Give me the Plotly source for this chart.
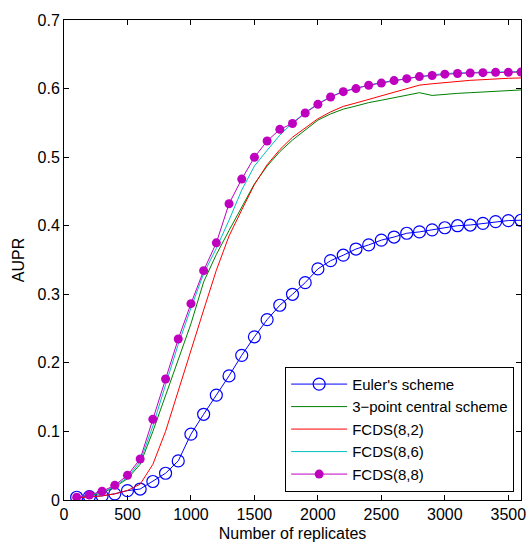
import plotly.graph_objects as go

replicates = [100, 200, 300, 400, 500, 600, 700, 800, 900, 1000, 1100, 1200,
              1300, 1400, 1500, 1600, 1700, 1800, 1900, 2000, 2100, 2200, 2300, 2400,
              2500, 2600, 2700, 2800, 2900, 3000, 3100, 3200, 3300, 3400, 3500, 3600]

euler = [0.004, 0.005, 0.006, 0.009, 0.0136, 0.016, 0.027, 0.039, 0.057, 0.096, 0.125, 0.153,
         0.181, 0.211, 0.238, 0.263, 0.284, 0.300, 0.317, 0.337, 0.349, 0.357, 0.366, 0.372,
         0.379, 0.3835, 0.389, 0.391, 0.394, 0.397, 0.400, 0.401, 0.4035, 0.406, 0.4075, 0.408]

central3 = [0.004, 0.006, 0.010, 0.019, 0.031, 0.052, 0.100, 0.152, 0.205, 0.257, 0.318, 0.358,
            0.393, 0.428, 0.461, 0.487, 0.508, 0.525, 0.539, 0.554, 0.563, 0.570, 0.5746, 0.5795,
            0.583, 0.587, 0.5906, 0.594, 0.590, 0.592, 0.593, 0.594, 0.595, 0.596, 0.597, 0.598]

fcds82 = [0.003, 0.004, 0.006, 0.009, 0.014, 0.023, 0.052, 0.100, 0.160, 0.220, 0.277, 0.335,
          0.385, 0.423, 0.460, 0.489, 0.511, 0.529, 0.543, 0.556, 0.566, 0.574, 0.579, 0.584,
          0.589, 0.594, 0.600, 0.605, 0.607, 0.609, 0.610, 0.612, 0.613, 0.6145, 0.615, 0.6155]

fcds86 = [0.004, 0.007, 0.011, 0.020, 0.033, 0.056, 0.108, 0.168, 0.227, 0.280, 0.330, 0.367,
          0.408, 0.452, 0.487, 0.510, 0.532, 0.550, 0.565, 0.578, 0.588, 0.596, 0.601, 0.605,
          0.609, 0.612, 0.615, 0.618, 0.620, 0.622, 0.623, 0.623, 0.624, 0.624, 0.624, 0.625]

fcds88 = [0.004, 0.0073, 0.0127, 0.0214, 0.036, 0.0598, 0.1177, 0.1765, 0.2348, 0.2863, 0.3345, 0.375,
          0.432, 0.468, 0.4998, 0.5235, 0.5405, 0.549, 0.5644, 0.577, 0.5877, 0.5955, 0.600, 0.6048,
          0.608, 0.6116, 0.6145, 0.6175, 0.619, 0.621, 0.622, 0.6227, 0.6232, 0.6237, 0.6237, 0.624]

x_ticks = [0, 500, 1000, 1500, 2000, 2500, 3000, 3500]
y_ticks = [0, 0.1, 0.2, 0.3, 0.4, 0.5, 0.6, 0.7]
y_tick_labels = ["0", "0.1", "0.2", "0.3", "0.4", "0.5", "0.6", "0.7"]

FONT = "Liberation Sans, Arial, sans-serif"

fig = go.Figure()
fig.add_trace(go.Scatter(x=replicates, y=euler, name="Euler's scheme", mode="lines+markers",
                         line=dict(color="#0000ff", width=1),
                         marker=dict(symbol="circle-open", size=12, color="#0000ff",
                                     line=dict(width=1.2, color="#0000ff"))))
fig.add_trace(go.Scatter(x=replicates, y=central3, name="3\u2212point central scheme", mode="lines",
                         line=dict(color="#008000", width=1)))
fig.add_trace(go.Scatter(x=replicates, y=fcds82, name="FCDS(8,2)", mode="lines",
                         line=dict(color="#ff0000", width=1)))
fig.add_trace(go.Scatter(x=replicates, y=fcds86, name="FCDS(8,6)", mode="lines",
                         line=dict(color="#00bfbf", width=1)))
fig.add_trace(go.Scatter(x=replicates, y=fcds88, name="FCDS(8,8)", mode="lines+markers",
                         line=dict(color="#bf00bf", width=1),
                         marker=dict(symbol="circle", size=9, color="#bf00bf")))

axis_common = dict(showline=True, linecolor="black", linewidth=1, mirror="ticks",
                   ticks="inside", ticklen=5, tickcolor="black", showgrid=False,
                   zeroline=False, automargin=False,
                   tickfont=dict(family=FONT, size=16, color="black"))

fig.update_layout(
    width=528, height=542,
    margin=dict(l=64, r=7, t=20, b=42),
    paper_bgcolor="white", plot_bgcolor="white",
    font=dict(family=FONT, size=16, color="black"),
    xaxis=dict(range=[0, 3600], tickvals=x_ticks,
               title=dict(text="Number of replicates", standoff=6, font=dict(size=16)),
               **axis_common),
    yaxis=dict(range=[0, 0.7], tickvals=y_ticks, ticktext=y_tick_labels,
               title=dict(text="AUPR", standoff=8, font=dict(size=16)),
               **axis_common),
    legend=dict(x=0.985, y=0.017, xanchor="right", yanchor="bottom",
                bgcolor="white", bordercolor="black", borderwidth=1,
                font=dict(family=FONT, size=15, color="black"),
                tracegroupgap=0, itemwidth=56),
    showlegend=True,
)

fig.write_html("out.html")
